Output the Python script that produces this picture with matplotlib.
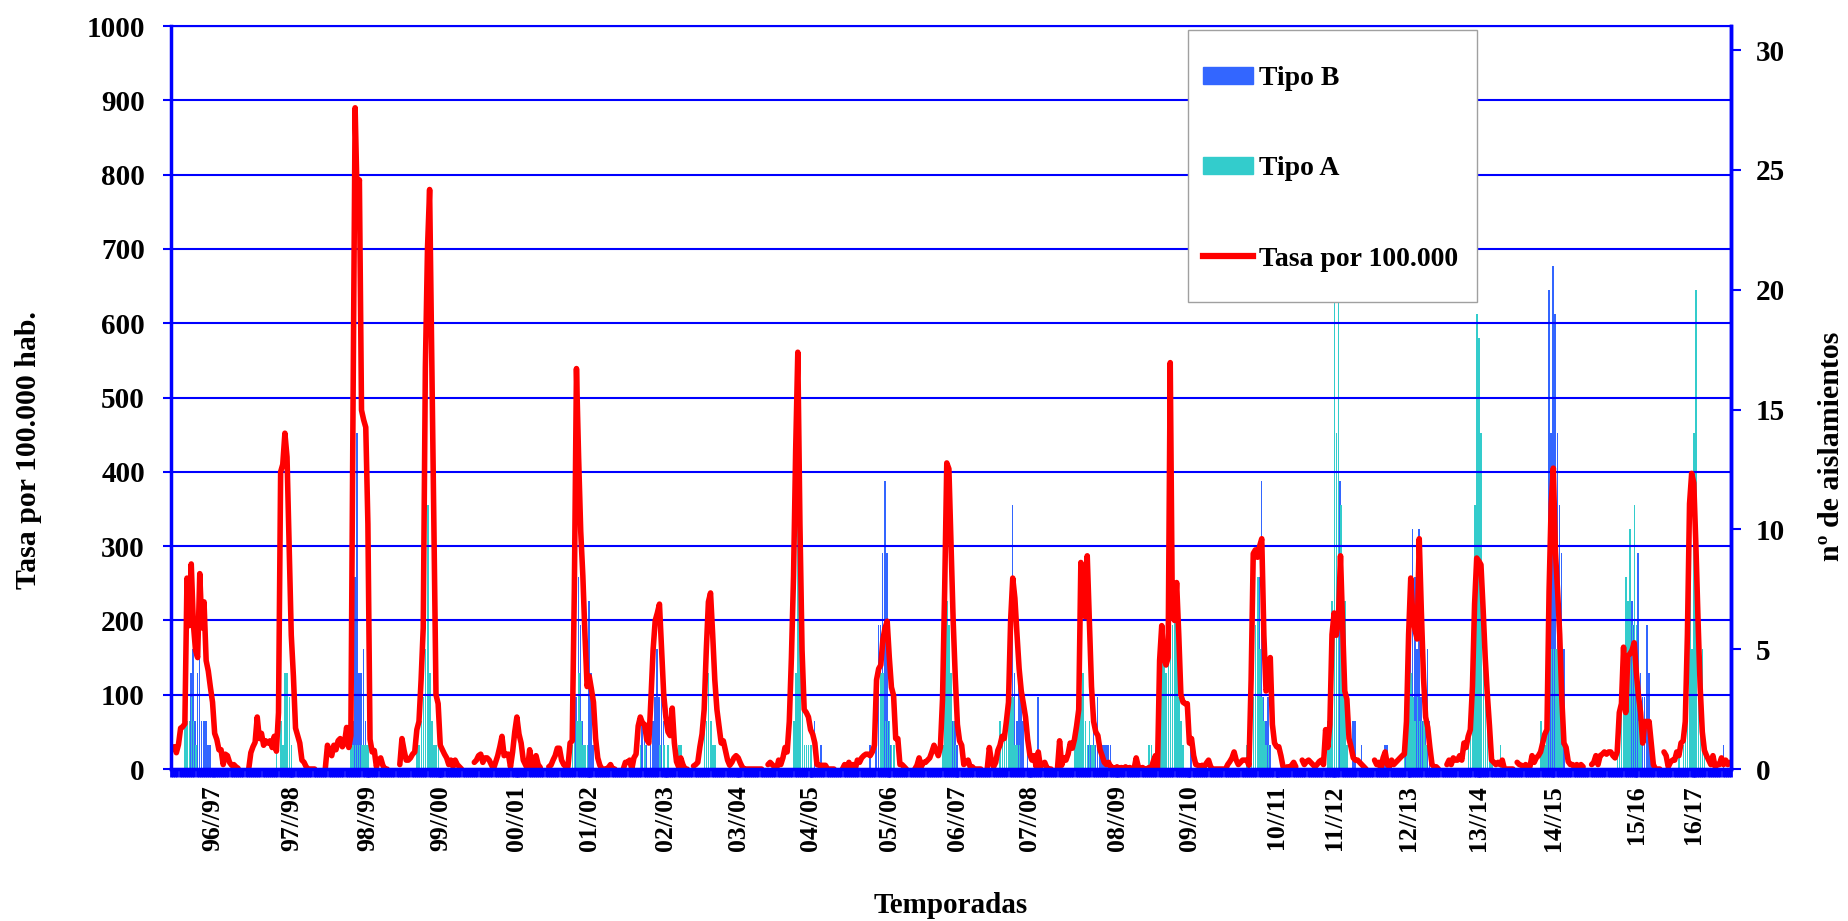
import numpy as np
import matplotlib.pyplot as plt
from matplotlib.patches import Patch, Rectangle
from matplotlib.lines import Line2D

plt.rcParams['font.family'] = ['Liberation Serif', 'DejaVu Serif']
plt.rcParams['font.weight'] = 'bold'
plt.rcParams['axes.labelweight'] = 'bold'

AZUL = '#0000FF'

# semanas epidemiologicas (posiciones en el eje de categorias)
n_semanas = 733

temporadas = ['96//97', '97//98', '98//99', '99//00', '00//01', '01//02', '02//03',
              '03//04', '04//05', '05//06', '06//07', '07//08', '08//09', '09//10',
              '10//11', '11//12', '12//13', '13//14', '14//15', '15/16', '16/17']
semana_etiqueta = [19, 56, 92, 126, 162, 196, 232, 266, 300, 337, 369, 403, 444,
                   478, 519, 546, 581, 614, 649, 688, 715]

# tasa por 100.000 hab. -> semana inicial de cada temporada y valores semanales
inicio_tasa = [1, 36, 72, 107, 142, 177, 212, 245, 280, 315, 349, 383, 416, 452,
               495, 531, 565, 599, 632, 667, 701]
tasa = [
    [30, 22, 33, 55, 57, 61, 257, 193, 276, 195, 160, 150, 263, 190, 225, 146, 132,
     110, 90, 48, 40, 26, 26, 6, 20, 18, 9, 5, 6, 3, 1],
    [0, 22, 30, 36, 70, 41, 48, 32, 38, 35, 38, 29, 44, 24, 76, 400, 410, 452, 420,
     300, 180, 125, 55, 45, 35, 12, 9, 3, 0, 0, 0, 0],
    [1, 32, 23, 18, 32, 26, 38, 41, 30, 35, 56, 29, 45, 480, 890, 760, 793, 483, 470,
     460, 330, 40, 23, 25, 3, 12, 15, 5, 0, 0],
    [6, 41, 25, 12, 12, 15, 20, 23, 53, 64, 120, 190, 540, 700, 780, 560, 330, 100,
     88, 32, 26, 20, 15, 6, 12, 3, 12, 6, 3, 0],
    [9, 12, 18, 20, 9, 15, 15, 12, 6, 0, 9, 18, 30, 44, 18, 20, 20, 3, 23, 50, 70,
     47, 35, 12, 6, 0, 26, 8, 0, 18, 6, 2],
    [3, 5, 12, 18, 28, 28, 12, 6, 3, 3, 35, 38, 240, 539, 420, 320, 260, 180, 111,
     125, 108, 90, 41, 15, 5, 0, 0, 0, 2, 6, 0, 0],
    [0, 9, 9, 12, 0, 15, 20, 58, 70, 62, 60, 40, 35, 95, 160, 200, 210, 222, 160,
     100, 70, 50, 45, 82, 35, 10, 3, 15, 6, 0, 0],
    [4, 6, 9, 30, 47, 80, 160, 225, 237, 181, 120, 80, 58, 35, 38, 25, 12, 5, 9, 15,
     18, 15, 8, 2, 0, 0, 0, 0, 0, 0, 0, 0, 0],
    [6, 9, 6, 3, 0, 12, 6, 15, 29, 23, 64, 150, 260, 430, 561, 330, 160, 80, 76, 70,
     53, 47, 35, 6, 5, 5, 5, 5, 0, 0, 0, 0],
    [0, 6, 0, 9, 3, 6, 0, 12, 9, 15, 18, 20, 20, 18, 23, 32, 120, 135, 140, 175, 190,
     199, 150, 110, 99, 41, 41, 6, 6, 3, 0],
    [0, 5, 15, 3, 9, 9, 12, 15, 23, 32, 25, 18, 29, 94, 240, 412, 404, 300, 200, 123,
     60, 38, 32, 6, 9, 12, 3, 3, 0, 0, 0, 0],
    [0, 29, 10, 3, 9, 25, 32, 44, 41, 64, 90, 200, 257, 230, 181, 135, 105, 88, 70,
     40, 20, 12, 18, 3, 23, 3, 6, 9, 2, 0, 0],
    [0, 38, 5, 15, 12, 20, 35, 28, 40, 58, 80, 278, 260, 205, 287, 200, 111, 64, 50,
     45, 26, 18, 9, 6, 9, 3, 2, 0, 3, 0, 2, 0, 3, 0, 2, 0],
    [0, 15, 3, 0, 2, 0, 0, 2, 0, 10, 18, 0, 146, 193, 150, 140, 150, 547, 205, 200,
     251, 181, 100, 90, 88, 88, 35, 41, 18, 6, 5, 3, 5, 3, 8, 12, 3, 0, 0, 0, 0, 0, 0],
    [0, 6, 10, 15, 23, 12, 6, 9, 12, 12, 12, 5, 120, 290, 295, 285, 300, 310, 180,
     105, 110, 150, 60, 35, 30, 30, 18, 3, 0, 3, 2, 5, 9, 3],
    [12, 6, 10, 12, 9, 6, 3, 6, 10, 12, 6, 53, 29, 60, 181, 210, 180, 200, 287, 193,
     105, 94, 41, 29, 15, 12, 12, 9, 6, 3, 0],
    [12, 6, 9, 0, 15, 23, 6, 3, 12, 6, 9, 12, 15, 18, 20, 64, 181, 257, 205, 187, 175,
     310, 211, 123, 70, 56, 29, 6, 3, 3, 0],
    [6, 12, 6, 15, 12, 12, 18, 12, 35, 29, 44, 53, 111, 222, 284, 280, 275, 216, 150,
     100, 58, 12, 9, 6, 9, 6, 12, 0, 0, 0, 0, 0],
    [9, 6, 5, 3, 6, 0, 3, 18, 9, 15, 18, 23, 35, 47, 53, 240, 357, 405, 292, 240, 181,
     94, 35, 29, 10, 6, 6, 3, 6, 3, 6, 3],
    [6, 9, 18, 6, 18, 20, 23, 20, 23, 23, 18, 15, 23, 76, 88, 164, 76, 152, 155, 160,
     170, 130, 99, 76, 35, 64, 64, 64, 35, 6, 0, 0, 0],
    [23, 18, 3, 9, 12, 12, 23, 18, 35, 38, 64, 181, 357, 398, 385, 300, 200, 110, 50,
     25, 18, 12, 6, 18, 3, 6, 6, 15, 6, 12, 6, 9],
]

# aislamientos semanales (eje derecho)
inicio_barras = [6, 49, 84, 115, 0, 188, 220, 250, 292, 328, 362, 389, 424, 459,
                 505, 543, 570, 609, 643, 679, 708]
tipo_a = [
    [2, 2, 2, 3, 2, 1],
    [1, 0, 2, 1, 4, 4, 3, 1],
    [2, 1, 1, 1, 1, 1, 1, 1, 1],
    [1, 1, 2, 3, 5, 11, 4, 2, 1, 1, 1],
    [],
    [1, 3, 2, 4, 2, 1, 1, 1],
    [1, 0, 1, 0, 0, 0, 0, 0, 0, 1, 0, 1, 0, 1, 0, 0, 0, 0, 1, 1],
    [2, 2, 4, 2, 1, 1],
    [2, 4, 11, 10, 4, 1, 1, 1, 1],
    [0, 0, 0, 0, 0, 4, 4, 2, 2, 2, 1, 1],
    [1, 5, 7, 6, 4, 2, 1],
    [2, 1, 2, 3, 6, 3, 3, 1, 1, 1],
    [1, 2, 2, 3, 4, 2, 1, 2, 1, 1],
    [1, 1, 0, 0, 0, 2, 6, 6, 4, 6, 6, 6, 7, 6, 3, 2, 1],
    [1, 0, 7, 3, 6, 8, 5, 3, 2, 1, 1],
    [2, 4, 7, 20, 14, 20, 11, 7, 7, 1],
    [0, 0, 0, 0, 0, 0, 0, 0, 0, 1, 2, 3, 4, 3, 2, 3, 2, 2, 2, 1],
    [1, 2, 3, 11, 19, 18, 14, 5, 3, 2, 2, 1, 0, 0, 0, 1],
    [2, 1, 1, 2, 3, 5, 5, 5, 5, 3, 1],
    [1, 1, 4, 3, 8, 7, 10, 6, 11, 6, 2, 1],
    [1, 0, 1, 2, 4, 8, 5, 14, 20, 8, 5, 5, 1],
]
tipo_b = [
    [0, 0, 0, 4, 5, 2, 4, 6, 2, 2, 2, 1, 1],
    [],
    [0, 2, 8, 14, 4, 4, 5, 2],
    [],
    [],
    [0, 0, 3, 8, 6, 2, 1, 0, 7, 4, 1],
    [0, 2, 2, 1, 0, 1, 2, 3, 5, 3, 6, 2],
    [],
    [0, 0, 0, 0, 0, 0, 0, 0, 1, 0, 2, 0, 0, 1],
    [1, 0, 0, 1, 6, 6, 9, 12, 9, 2, 1],
    [0, 0, 0, 0, 0, 2, 2, 1],
    [0, 0, 0, 0, 0, 1, 11, 4, 2, 4, 4, 2, 0, 1, 0, 0, 0, 0, 3],
    [0, 0, 0, 0, 0, 0, 0, 1, 1, 2, 1, 3, 1, 1, 1, 1, 1, 1],
    [0, 0, 0, 0, 0, 0, 0, 0, 0, 0, 0, 0, 0, 0, 0, 0, 0, 0, 0, 0, 1],
    [1, 1, 0, 0, 0, 0, 8, 12, 3, 2, 3, 1],
    [0, 0, 0, 0, 0, 0, 12, 0, 0, 0, 0, 0, 2, 2, 0, 0, 1],
    [1, 1, 0, 0, 0, 0, 0, 0, 0, 0, 4, 5, 5, 10, 8, 5, 10, 3, 2, 2, 5, 2],
    [],
    [0, 0, 0, 0, 20, 14, 21, 19, 14, 11, 9, 5],
    [0, 0, 0, 0, 0, 0, 0, 7, 6, 4, 9, 4, 3, 3, 6, 4, 2],
    [0, 0, 0, 0, 0, 0, 0, 0, 0, 0, 0, 0, 0, 0, 0, 0, 0, 0, 0, 0, 0, 1],
]

semanas = np.arange(n_semanas)
serie_tasa = np.full(n_semanas, np.nan)
for ini, vals in zip(inicio_tasa, tasa):
    serie_tasa[ini:ini + len(vals)] = vals
serie_a = np.zeros(n_semanas)
serie_b = np.zeros(n_semanas)
for ini, va, vb in zip(inicio_barras, tipo_a, tipo_b):
    serie_a[ini:ini + len(va)] = va
    serie_b[ini:ini + len(vb)] = vb

fig = plt.figure(figsize=(18.49, 9.21), dpi=100)
ax = fig.add_axes([0.0925, 0.1650, 0.8437, 0.8067])
ax2 = ax.twinx()

ax2.bar(semanas - 0.12, serie_b, width=0.75, color='#3366FF', linewidth=0)
ax2.bar(semanas + 0.12, serie_a, width=0.75, color='#33CCCC', linewidth=0)
ax2.set_ylim(0, 31)
ax2.set_yticks(range(0, 31, 5))

ax.set_zorder(ax2.get_zorder() + 1)
ax.patch.set_visible(False)
ax.plot(semanas, serie_tasa, color='#FF0000', lw=4,
        solid_joinstyle='round', solid_capstyle='round')

ax.set_xlim(-0.5, n_semanas - 0.5)
ax.set_ylim(0, 1000)
ax.set_yticks(range(0, 1001, 100))
ax.yaxis.grid(True, color=AZUL, lw=1.5)

ax.set_xticks(semana_etiqueta)
ax.set_xticklabels(temporadas, rotation=90, fontsize=18.5)
ax.set_xticks(np.arange(n_semanas + 1) - 0.5, minor=True)
ax.tick_params(axis='x', which='both', direction='out', length=5.5, width=2,
               color=AZUL, pad=6)
ax.tick_params(axis='y', direction='out', length=5.8, width=1.5, color=AZUL,
               labelsize=21, pad=13)
ax2.tick_params(axis='y', direction='out', length=7, width=1.5, color=AZUL,
                labelsize=21, pad=11)

for a in (ax, ax2):
    for lado in a.spines:
        a.spines[lado].set_color(AZUL)
ax.spines['left'].set_linewidth(2.5)
ax.spines['right'].set_linewidth(2.5)
ax2.spines['right'].set_linewidth(2.5)
ax.spines['bottom'].set_linewidth(2.5)
ax.spines['top'].set_linewidth(1.5)

ax.set_ylabel('Tasa por 100.000 hab.', fontsize=21.5, fontweight='bold')
ax.yaxis.set_label_coords(-0.083, 0.429)
ax2.set_ylabel('nº de aislamientos', fontsize=21.5, fontweight='bold')
ax2.yaxis.set_label_coords(1.056, 0.435)
ax.set_xlabel('Temporadas', fontsize=21, fontweight='bold')
ax.xaxis.set_label_coords(0.5, -0.165)

# recuadro de la leyenda
ax.add_patch(Rectangle((0.652, 0.6285), 0.1853, 0.3661, transform=ax.transAxes,
                       facecolor='white', edgecolor='#A0A0A0', lw=1,
                       zorder=4.5, clip_on=False))
handles = [Patch(color='#3366FF'), Patch(color='#33CCCC'),
           Line2D([], [], color='#FF0000', lw=4.5)]
leg = ax.legend(handles, ['Tipo B', 'Tipo A', 'Tasa por 100.000'],
                loc='upper left', bbox_to_anchor=(0.6615, 0.946),
                borderaxespad=0, fontsize=20, borderpad=0,
                labelspacing=2.35, handlelength=1.8, handleheight=0.6,
                handletextpad=0.2, frameon=False)

fig.savefig('out.png', dpi=100)
